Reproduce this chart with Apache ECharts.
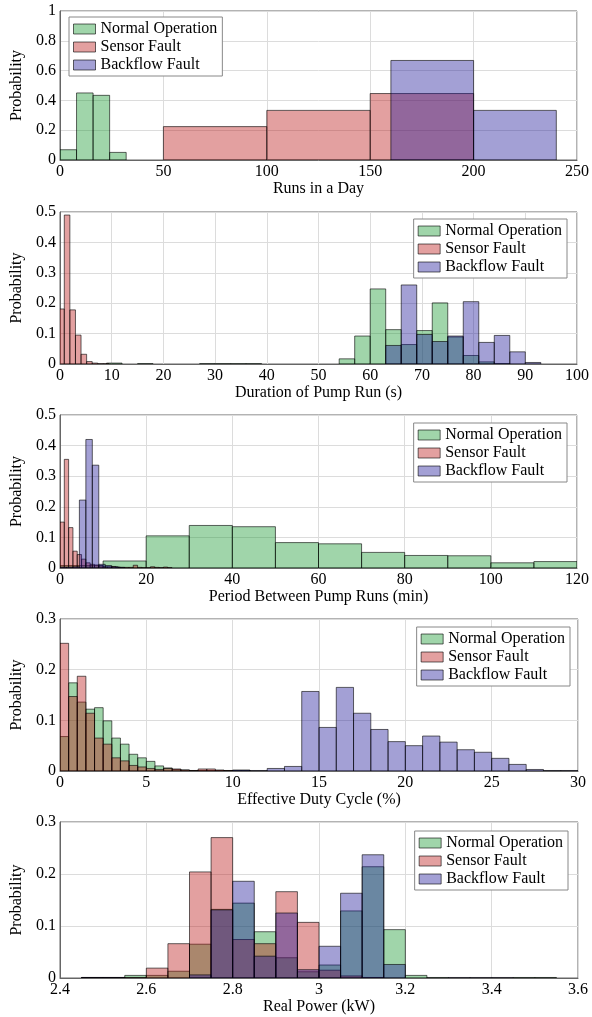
<!DOCTYPE html>
<html><head><meta charset="utf-8">
<script src="https://cdn.jsdelivr.net/npm/echarts@6/dist/echarts.min.js"></script>
<style>html,body{margin:0;padding:0;background:#fff}#c{width:592px;height:1017px}</style>
</head><body><div id="c"></div>
<script>
// ---- labels ----
const seriesNames = ['Normal Operation', 'Sensor Fault', 'Backflow Fault'];
const xTitles = ['Runs in a Day', 'Duration of Pump Run (s)', 'Period Between Pump Runs (min)', 'Effective Duty Cycle (%)', 'Real Power (kW)'];
const yTitle = 'Probability';

// ---- panel 1: runs in a day ----
const runsNormalStart = 0, runsNormalWidth = 8;
const runsNormal = [0.069, 0.45, 0.434, 0.051];
const runsSensorStart = 50, runsSensorWidth = 50;
const runsSensor = [0.224, 0.333, 0.446];
const runsBackflowStart = 160, runsBackflowWidth = 40;
const runsBackflow = [0.668, 0.333];

// ---- panel 2: duration of pump run ----
const durNormalStart = 0, durNormalWidth = 3;
const durNormal = [0, 0, 0, 0.003, 0, 0.001, 0, 0, 0, 0.001, 0.001, 0.001, 0.001, 0, 0, 0, 0, 0,
  0.017, 0.092, 0.247, 0.113, 0.064, 0.11, 0.201, 0.089, 0.028, 0.007, 0.001];
const durSensorStart = -0.25, durSensorWidth = 1.08;
const durSensor = [0.181, 0.49, 0.178, 0.095, 0.032, 0.008, 0.003, 0.001, 0.001];
const durBackflowStart = 63, durBackflowWidth = 3;
const durBackflow = [0.061, 0.26, 0.097, 0.074, 0.092, 0.205, 0.071, 0.094, 0.04, 0.005];

// ---- panel 3: period between pump runs ----
const perNormalStart = 0, perNormalWidth = 10;
const perNormal = [0.008, 0.023, 0.105, 0.139, 0.135, 0.083, 0.079, 0.051, 0.041, 0.04, 0.017, 0.021];
const perSensorStart = 0, perSensorWidth = 1;
const perSensor = [0.15, 0.355, 0.132, 0.055, 0.044, 0.029, 0.017, 0.012, 0.01, 0.007, 0.004, 0.004,
  0.005, 0.003, 0.002, 0.002, 0.002, 0.009, 0.002, 0.001, 0.001, 0.004, 0.002, 0.001, 0.003, 0.001];
const perBackflowStart = 0, perBackflowWidth = 1.5;
const perBackflow = [0.003, 0.003, 0.004, 0.222, 0.42, 0.336, 0.012, 0.008, 0.004, 0.002];

// ---- panel 4: effective duty cycle ----
const dutyNormalStart = 0, dutyNormalWidth = 0.5;
const dutyNormal = [0.068, 0.174, 0.136, 0.122, 0.125, 0.099, 0.065, 0.053, 0.033, 0.026, 0.019,
  0.01, 0.006, 0.003, 0.002, 0.001, 0.001, 0.001, 0.001, 0.001, 0.001, 0.001];
const dutySensorStart = 0, dutySensorWidth = 0.5;
const dutySensor = [0.252, 0.147, 0.187, 0.114, 0.065, 0.053, 0.026, 0.02, 0.011, 0.008, 0.005,
  0.003, 0.005, 0.004, 0.002, 0.001, 0.004, 0.004, 0.002, 0.001];
const dutyBackflowStart = 10, dutyBackflowWidth = 1;
const dutyBackflow = [0.002, 0.001, 0.005, 0.009, 0.157, 0.086, 0.165, 0.114, 0.082, 0.058, 0.05,
  0.069, 0.057, 0.042, 0.037, 0.025, 0.013, 0.003, 0.001, 0.001];

// ---- panel 5: real power ----
const powStart = 2.45, powWidth = 0.05;
const powNormal = [0.001, 0.001, 0.005, 0.005, 0.013, 0.065, 0.132, 0.144, 0.089, 0.039, 0.012,
  0.025, 0.129, 0.214, 0.093, 0.005, 0.001, 0, 0, 0, 0.001, 0.001];
const powSensor = [0.001, 0.001, 0.001, 0.019, 0.066, 0.204, 0.27, 0.074, 0.066, 0.166, 0.107,
  0.015, 0.004, 0.001];
const powBackflow = [0.001, 0.001, 0, 0, 0, 0.006, 0.131, 0.186, 0.042, 0.125, 0.016, 0.061,
  0.163, 0.237, 0.026, 0, 0, 0.001, 0.001, 0.001];

// ---- axis ranges / ticks ----
const xMins = [0, 0, 0, 0, 2.4];
const xMaxs = [250, 100, 120, 30, 3.6];
const xIntervals = [50, 10, 20, 5, 0.2];
const yMaxs = [1, 0.5, 0.5, 0.3, 0.3];
const yIntervals = [0.2, 0.1, 0.1, 0.1, 0.1];

// ---- styling ----
const FILLS = ['rgba(17,150,42,0.4)', 'rgba(185,17,17,0.4)', 'rgba(25,17,150,0.4)'];
const EDGE = 'rgba(0,0,0,0.6)';
const FONT = 'Liberation Serif';
const gridTops = [11, 212, 415, 619, 822];
const gridHeights = [149, 152, 153, 152, 156];

const panels = [
  [[runsNormalStart, runsNormalWidth, runsNormal], [runsSensorStart, runsSensorWidth, runsSensor], [runsBackflowStart, runsBackflowWidth, runsBackflow]],
  [[durNormalStart, durNormalWidth, durNormal], [durSensorStart, durSensorWidth, durSensor], [durBackflowStart, durBackflowWidth, durBackflow]],
  [[perNormalStart, perNormalWidth, perNormal], [perSensorStart, perSensorWidth, perSensor], [perBackflowStart, perBackflowWidth, perBackflow]],
  [[dutyNormalStart, dutyNormalWidth, dutyNormal], [dutySensorStart, dutySensorWidth, dutySensor], [dutyBackflowStart, dutyBackflowWidth, dutyBackflow]],
  [[powStart, powWidth, powNormal], [powStart, powWidth, powSensor], [powStart, powWidth, powBackflow]]
];

function histSeries(name, g, start, width, vals, ci) {
  const data = [];
  vals.forEach((v, i) => { if (v > 0) data.push([start + i * width, start + (i + 1) * width, v]); });
  return {
    type: 'custom', name: name, xAxisIndex: g, yAxisIndex: g, data: data, clip: true,
    encode: { x: [0, 1], y: 2 }, silent: true, z: 2 + ci,
    renderItem: function (params, api) {
      const p0 = api.coord([api.value(0), 0]);
      const p1 = api.coord([api.value(1), api.value(2)]);
      return {
        type: 'rect',
        shape: { x: p0[0], y: p1[1], width: p1[0] - p0[0], height: p0[1] - p1[1] },
        style: { fill: FILLS[ci], stroke: EDGE, lineWidth: 1 }
      };
    }
  };
}

const grids = [], xAxes = [], yAxes = [], series = [], legends = [];
const legendPos = [
  { left: 69, top: 17 },
  { right: 25, top: 219 },
  { right: 25, top: 423 },
  { right: 22, top: 627 },
  { right: 24, top: 831 }
];
for (let g = 0; g < 5; g++) {
  grids.push({ left: 60, right: 14, top: gridTops[g], height: gridHeights[g], show: true, borderColor: '#666', borderWidth: 1, backgroundColor: 'transparent' });
  xAxes.push({
    type: 'value', gridIndex: g, min: xMins[g], max: xMaxs[g], interval: xIntervals[g],
    name: xTitles[g], nameLocation: 'middle', nameGap: 21,
    nameTextStyle: { fontFamily: FONT, fontSize: 16, color: '#000' },
    axisLine: { show: true, lineStyle: { color: '#666' } }, axisTick: { show: false },
    axisLabel: { fontFamily: FONT, fontSize: 16, color: '#000', margin: 4 },
    splitLine: { show: true, lineStyle: { color: '#dcdcdc' } }
  });
  yAxes.push({
    type: 'value', gridIndex: g, min: 0, max: yMaxs[g], interval: yIntervals[g],
    name: yTitle, nameLocation: 'middle', nameGap: 34,
    nameTextStyle: { fontFamily: FONT, fontSize: 16, color: '#000' },
    axisLine: { show: true, lineStyle: { color: '#666' } }, axisTick: { show: false },
    axisLabel: { fontFamily: FONT, fontSize: 16, color: '#000', margin: 4 },
    splitLine: { show: true, lineStyle: { color: '#dcdcdc' } }
  });
  panels[g].forEach((p, ci) => series.push(histSeries(seriesNames[ci], g, p[0], p[1], p[2], ci)));
  legends.push(Object.assign({
    orient: 'vertical', selectedMode: false, icon: 'rect', itemWidth: 22, itemHeight: 10, itemGap: 0,
    padding: [3, 5, 2, 4], borderColor: '#888', borderWidth: 1, backgroundColor: '#fff',
    textStyle: { fontFamily: FONT, fontSize: 16, color: '#000', lineHeight: 18 },
    data: seriesNames.map((n, ci) => ({ name: n, itemStyle: { color: FILLS[ci], borderColor: EDGE, borderWidth: 1 } }))
  }, legendPos[g]));
}

const chart = echarts.init(document.getElementById('c'), null, { renderer: 'canvas' });
chart.setOption({
  animation: false, backgroundColor: '#fff',
  grid: grids, xAxis: xAxes, yAxis: yAxes, series: series, legend: legends
});
</script></body></html>
